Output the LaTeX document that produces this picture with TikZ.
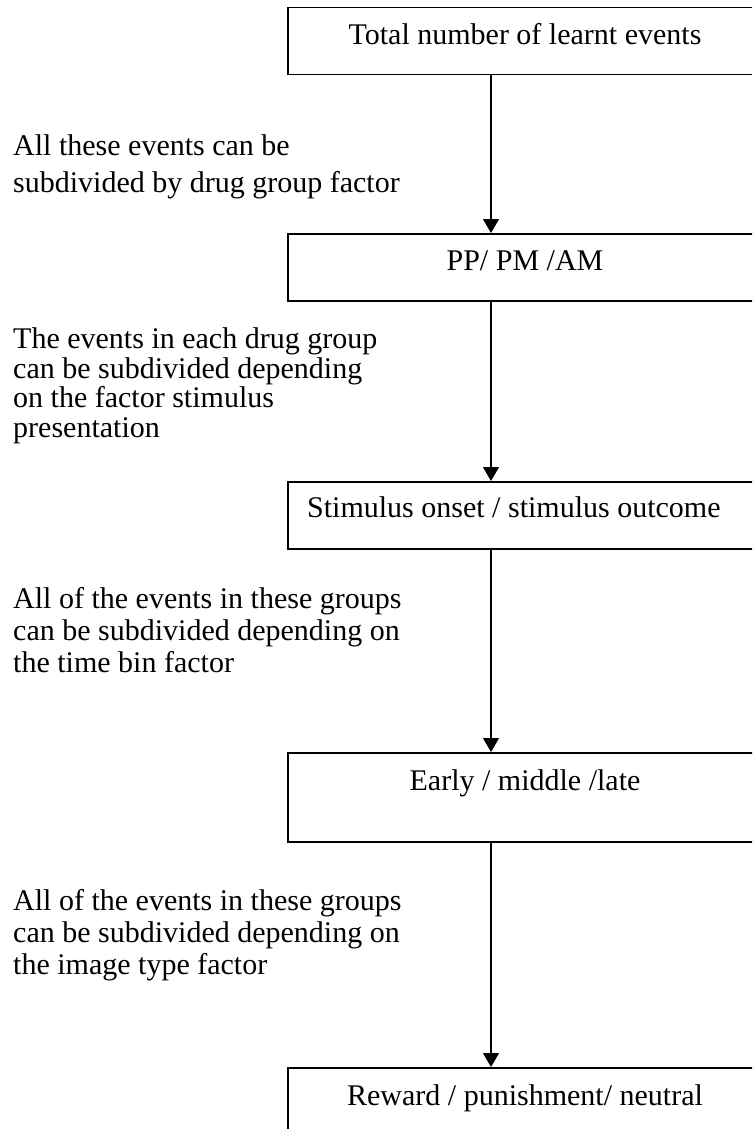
\documentclass[tikz,border=0pt]{standalone}
\usepackage{fontspec}
\setmainfont{Liberation Serif}
\usetikzlibrary{arrows.meta}

\tikzset{
  stage/.style={draw=black, line width=1.5pt, inner sep=0pt, anchor=north west, minimum width=483pt},
  stagetext/.style={inner sep=0pt, font=\fontsize{30}{34}\selectfont},
  note/.style={inner sep=0pt, align=left, anchor=north west},
  flow/.style={line width=1.3pt, -{Triangle[width=16pt,length=14pt]}}
}

\begin{document}
\begin{tikzpicture}[x=1pt, y=-1pt]
\useasboundingbox (0,0) rectangle (752,1129);
\clip (0,0) rectangle (752,1129);

% column through which the arrows run
\coordinate (ax) at (491,0);

% stage boxes (they run past the right edge)
\node[stage, minimum height=67pt] (b1) at (287,7) {};
\node[stage, minimum height=67pt] (b2) at (287,233) {};
\node[stage, minimum height=67pt] (b3) at (287,481) {};
\node[stage, minimum height=89pt] (b4) at (287,752) {};
\node[stage, minimum height=80pt] (b5) at (287,1067) {};

% stage texts
\node[stagetext, anchor=base] (t1) at (525,45) {Total number of learnt events};
\node[stagetext, anchor=base] (t2) at (525,270) {PP/ PM /AM};
\node[stagetext, anchor=base west] (t3) at (307,517) {Stimulus onset / stimulus outcome};
\node[stagetext, anchor=base] (t4) at (525,790) {Early / middle /late};
\node[stagetext, anchor=base] (t5) at (525,1105) {Reward / punishment/ neutral};

% explanatory notes on the left
\node[note, font=\fontsize{30}{36.5}\selectfont] (n1) at (13,134.5)
  {All these events can be\\subdivided by drug group factor};
\node[note, font=\fontsize{30}{29.5}\selectfont] (n2) at (13,327.5)
  {The events in each drug group\\can be subdivided depending\\on the factor stimulus\\presentation};
\node[note, font=\fontsize{30}{32}\selectfont] (n3) at (13,587.5)
  {All of the events in these groups\\can be subdivided depending on\\the time bin factor};
\node[note, font=\fontsize{30}{32}\selectfont] (n4) at (13,889.5)
  {All of the events in these groups\\can be subdivided depending on\\the image type factor};

% connectors
\draw[flow] (b1.south -| ax) -- (b2.north -| ax);
\draw[flow] (b2.south -| ax) -- (b3.north -| ax);
\draw[flow] (b3.south -| ax) -- (b4.north -| ax);
\draw[flow] (b4.south -| ax) -- (b5.north -| ax);
\end{tikzpicture}
\end{document}
